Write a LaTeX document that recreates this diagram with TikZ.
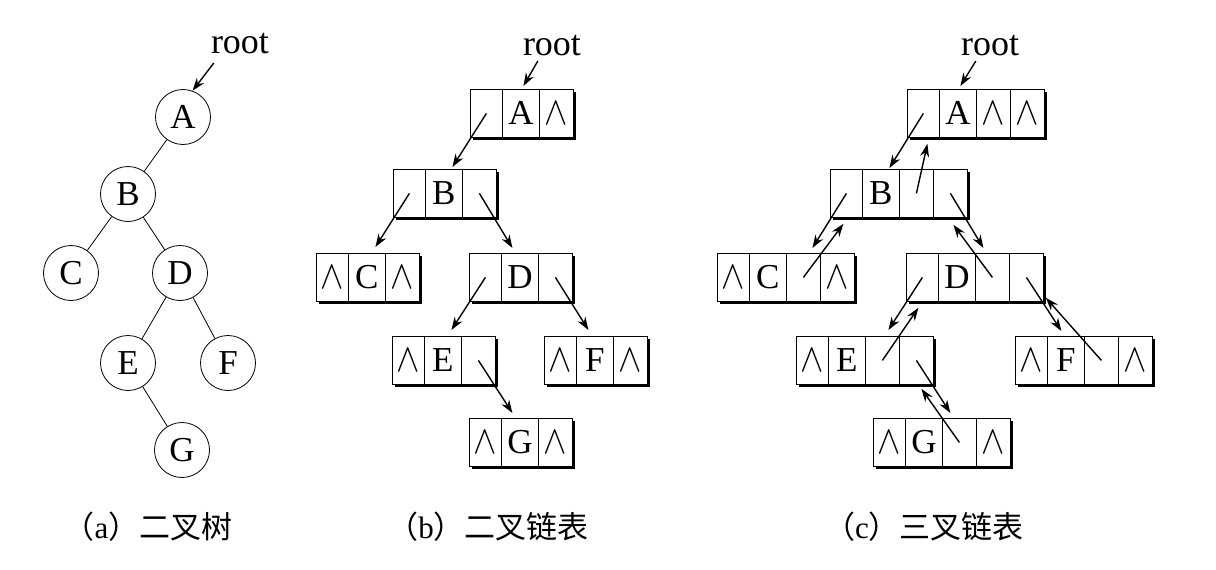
\documentclass[tikz,border=0pt]{standalone}
\usepackage{fontspec}
\usepackage{graphicx}
\setmainfont{Liberation Serif}
\newfontfamily\cjk{Noto Sans CJK SC}
\usetikzlibrary{arrows.meta,shadows}
\newcommand\andsym{{\fontsize{10}{12}\selectfont\scalebox{3.5}[4]{$\wedge$}}}
\newcommand\mkboxb[6]{%
  \node[boxbg, minimum width=103pt] (#1) at (#2,#3) {};
  \node[cell, minimum width=32pt] (#11) at (#2,#3) {#4};
  \node[cell, minimum width=37pt] (#12) at (#2+32,#3) {#5};
  \node[cell, minimum width=34pt] (#13) at (#2+69,#3) {#6};
}
\newcommand\mkboxc[7]{%
  \node[boxbg, minimum width=137pt] (#1) at (#2,#3) {};
  \node[cell, minimum width=32pt] (#11) at (#2,#3) {#4};
  \node[cell, minimum width=37pt] (#12) at (#2+32,#3) {#5};
  \node[cell, minimum width=34pt] (#13) at (#2+69,#3) {#6};
  \node[cell, minimum width=34pt] (#14) at (#2+103,#3) {#7};
}
\begin{document}
\begin{tikzpicture}[x=1pt,y=-1pt,
  every node/.style={inner sep=0pt},
  lett/.style={font=\fontsize{35}{35}\selectfont},
  rootf/.style={font=\fontsize{36}{36}\selectfont},
  capf/.style={font=\cjk\fontsize{31}{31}\selectfont},
  tnode/.style={circle, draw, line width=0.8pt, minimum size=55pt, lett},
  edge/.style={line width=0.8pt},
  ptr/.style={line width=1.4pt, -{Stealth[length=13pt,width=9pt]}},
  boxbg/.style={draw, line width=0.8pt, fill=white, minimum height=48pt, anchor=north west,
    drop shadow={shadow xshift=3pt, shadow yshift=-3pt, fill=black, opacity=1}},
  cell/.style={draw, line width=0.8pt, minimum height=48pt, anchor=north west, lett}
]
\useasboundingbox (0,0) rectangle (1216,570);
\fill[white] (0,0) rectangle (1216,570);

% ---------- (a) binary tree ----------
\node[rootf, anchor=base] (ra) at (240,53) {root};
\node[tnode] (A) at (183,117) {A};
\node[tnode] (B) at (128,194) {B};
\node[tnode] (C) at (71,273) {C};
\node[tnode] (D) at (180,273) {D};
\node[tnode] (E) at (128,363) {E};
\node[tnode] (F) at (228,363) {F};
\node[tnode] (G) at (182,450) {G};
\draw[ptr] ([shift={(3,10)}]ra.base west) -- (A.70);
\draw[edge] (A) -- (B);
\draw[edge] (B) -- (C);
\draw[edge] (B) -- (D);
\draw[edge] (D) -- (E);
\draw[edge] (D) -- (F);
\draw[edge] (E) -- (G);
\node[capf] (capa) at (148,527) {（{\rmfamily a}）二叉树};

% ---------- (b) binary linked list ----------
\node[rootf, anchor=base] (rb) at (552,55) {root};
\mkboxb{bA}{470}{89}{}{A}{\andsym}
\mkboxb{bB}{393}{169}{}{B}{}
\mkboxb{bC}{316}{253}{\andsym}{C}{\andsym}
\mkboxb{bD}{469}{253}{}{D}{}
\mkboxb{bE}{392}{336}{\andsym}{E}{}
\mkboxb{bF}{544}{336}{\andsym}{F}{\andsym}
\mkboxb{bG}{469}{418}{\andsym}{G}{\andsym}
\draw[ptr] ([shift={(15,6)}]rb.base west) -- ([shift={(2.5,-3)}]bA2.north);
\draw[ptr] (bA1.center) -- ([shift={(8.5,-2)}]bB2.north);
\draw[ptr] (bB1.center) -- ([shift={(8.5,-6)}]bC2.north);
\draw[ptr] (bB3.center) -- ([shift={(-7.5,-5)}]bD2.north);
\draw[ptr] (bD1.center) -- ([shift={(8.5,-6)}]bE2.north);
\draw[ptr] (bD3.center) -- ([shift={(-6.5,-6)}]bF2.north);
\draw[ptr] (bE3.center) -- ([shift={(-7.5,-5)}]bG2.north);
\node[capf] (capb) at (488,527) {（{\rmfamily b}）二叉链表};

% ---------- (c) trinary linked list ----------
\node[rootf, anchor=base] (rc) at (990,55) {root};
\mkboxc{cA}{907}{89}{}{A}{\andsym}{\andsym}
\mkboxc{cB}{830}{169}{}{B}{}{}
\mkboxc{cC}{717}{253}{\andsym}{C}{}{\andsym}
\mkboxc{cD}{906}{253}{}{D}{}{}
\mkboxc{cE}{796}{336}{\andsym}{E}{}{}
\mkboxc{cF}{1015}{336}{\andsym}{F}{}{\andsym}
\mkboxc{cG}{873}{418}{\andsym}{G}{}{\andsym}
\draw[ptr] ([shift={(15,6)}]rc.base west) -- ([shift={(2.5,-3)}]cA2.north);
\draw[ptr] (cA1.center) -- ([shift={(8.5,-1)}]cB2.north);
\draw[ptr] (cB3.center) -- ([shift={(4,6)}]cA1.south);
\draw[ptr] (cB1.center) -- ([shift={(9,-5)}]cC3.north);
\draw[ptr] (cC3.center) -- ([shift={(-3,6)}]cB1.south);
\draw[ptr] (cB4.center) -- ([shift={(-9,-5)}]cD3.north);
\draw[ptr] (cD3.center) -- ([shift={(3,7)}]cB4.south);
\draw[ptr] (cD1.center) -- ([shift={(6,-6)}]cE3.north);
\draw[ptr] (cE3.center) -- ([shift={(-4,6)}]cD1.south);
\draw[ptr] (cD4.center) -- ([shift={(-4.5,-5)}]cF2.north);
\draw[ptr] (cF3.center) -- ([shift={(2,-4)}]cD4.south east);
\draw[ptr] (cE4.center) -- ([shift={(-9,-5)}]cG3.north);
\draw[ptr] (cG3.center) -- ([shift={(5,4)}]cE4.south);
\node[capf] (capc) at (924,527) {（{\rmfamily c}）三叉链表};
\end{tikzpicture}
\end{document}
